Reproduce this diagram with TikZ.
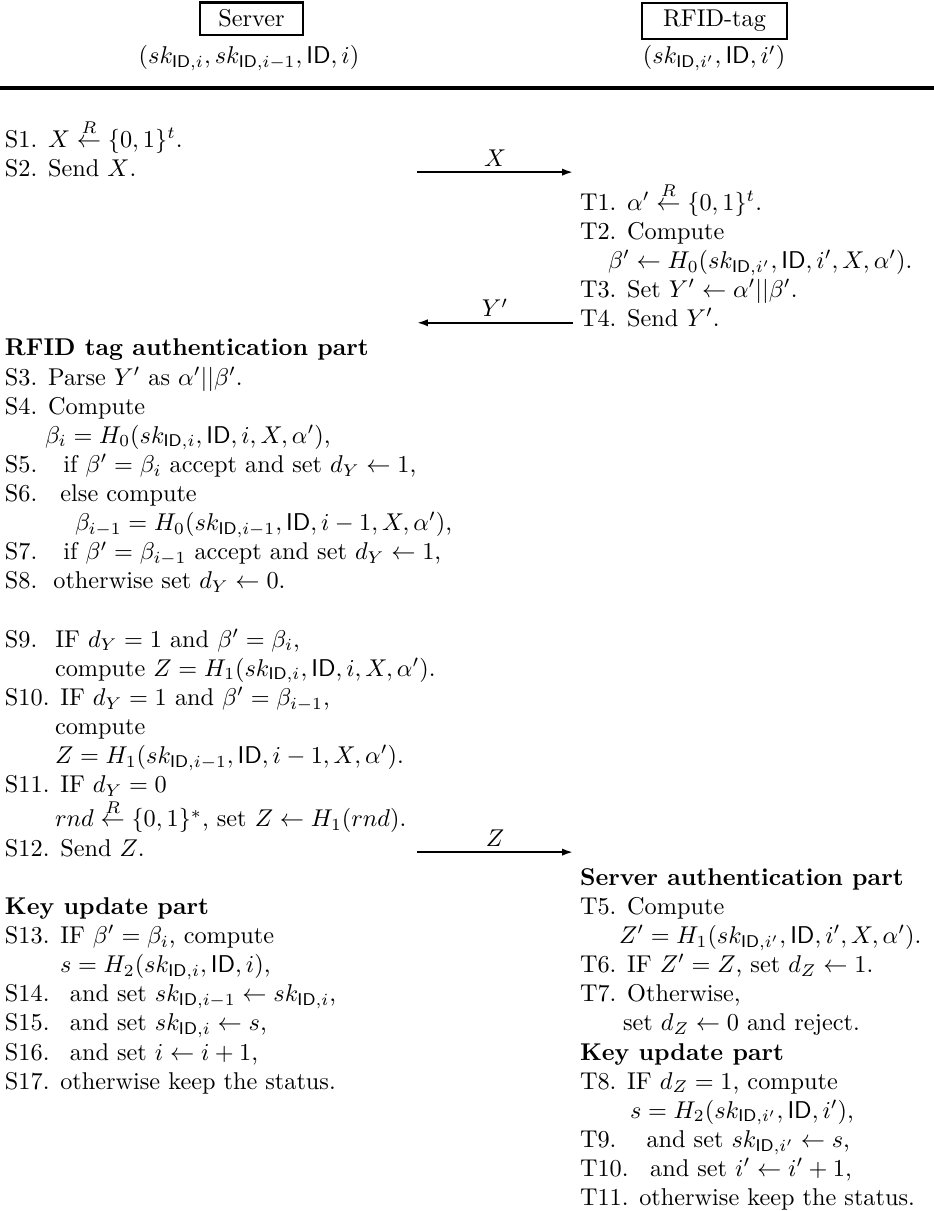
\documentclass[tikz,border=0pt]{standalone}
\usepackage{amsmath}
\usetikzlibrary{arrows.meta}
\newcommand\rowY[1]{(147+(#1-1)*29.13+5*((#1)>2)+5*((#1)>23))}
\newcommand\sk[1]{sk_{\mathsf{ID},#1}}
\begin{document}
\begin{tikzpicture}[x=0.412pt,y=-0.412pt,
  ln/.style={anchor=base west,inner sep=0pt,outer sep=0pt},
  party/.style={draw,line width=1pt,inner sep=3pt,anchor=base},
  msg/.style={line width=0.8pt,-{Latex[length=4.5pt,width=3pt]}},
  lbl/.style={above,inner sep=2pt}]
\useasboundingbox (0,0) rectangle (934,1211);
% header
\node[party,minimum width=42.4pt] (srv) at (251.5,27) {Server};
\node[party,minimum width=59.7pt] (tag) at (714.5,27) {RFID-tag};
\node[anchor=base,inner sep=0pt] (srvk) at (249,64) {$(\sk{i},\sk{i-1},\mathsf{ID},i)$};
\node[anchor=base,inner sep=0pt] (tagk) at (714,64) {$(\sk{i'},\mathsf{ID},i')$};
\draw[line width=1.4pt] (0,88) -- (934,88);
% left column
\node[ln] (s1) at (5,{\rowY{1}}) {S1. $X \stackrel{R}{\leftarrow} \{0,1\}^t$.};
\node[ln] (s2) at (5,{\rowY{2}}) {S2. Send $X$.};
\node[ln] (ra) at (5,{\rowY{8}}) {\textbf{RFID tag authentication part}};
\node[ln] (s3) at (5,{\rowY{9}}) {S3. Parse $Y'$ as $\alpha'||\beta'$.};
\node[ln] (s4) at (5,{\rowY{10}}) {S4. Compute};
\node[ln] (s4b) at (45,{\rowY{11}}) {$\beta_i = H_0(\sk{i},\mathsf{ID},i,X,\alpha')$,};
\node[ln] (s5) at (5,{\rowY{12}}) {S5.\hspace{10.7pt}if $\beta'=\beta_i$ accept and set $d_Y\leftarrow 1$,};
\node[ln] (s6) at (5,{\rowY{13}}) {S6.\hspace{9.5pt}else compute};
\node[ln] (s6b) at (75,{\rowY{14}}) {$\beta_{i-1} = H_0(\sk{i-1},\mathsf{ID},i-1,X,\alpha')$,};
\node[ln] (s7) at (5,{\rowY{15}}) {S7.\hspace{10.7pt}if $\beta'=\beta_{i-1}$ accept and set $d_Y\leftarrow 1$,};
\node[ln] (s8) at (5,{\rowY{16}}) {S8.\hspace{6.6pt}otherwise set $d_Y\leftarrow 0$.};
\node[ln] (s9) at (5,{\rowY{18}}) {S9.\hspace{7.4pt}IF $d_Y=1$ and $\beta'=\beta_i$,};
\node[ln] (s9b) at (55,{\rowY{19}}) {compute $Z=H_1(\sk{i},\mathsf{ID},i,X,\alpha')$.};
\node[ln] (s10) at (5,{\rowY{20}}) {S10. IF $d_Y=1$ and $\beta'=\beta_{i-1}$,};
\node[ln] (s10b) at (55,{\rowY{21}}) {compute};
\node[ln] (s10c) at (55,{\rowY{22}}) {$Z=H_1(\sk{i-1},\mathsf{ID},i-1,X,\alpha')$.};
\node[ln] (s11) at (5,{\rowY{23}}) {S11. IF $d_Y=0$};
\node[ln] (s11b) at (55,{\rowY{24}}) {$rnd \stackrel{R}{\leftarrow} \{0,1\}^*$, set $Z\leftarrow H_1(rnd)$.};
\node[ln] (s12) at (5,{\rowY{25}}) {S12. Send $Z$.};
\node[ln] (ku) at (5,{\rowY{27}}) {\textbf{Key update part}};
\node[ln] (s13) at (5,{\rowY{28}}) {S13. IF $\beta'=\beta_i$, compute};
\node[ln] (s13b) at (60,{\rowY{29}}) {$s=H_2(\sk{i},\mathsf{ID},i)$,};
\node[ln] (s14) at (5,{\rowY{30}}) {S14.\hspace{8.4pt}and set $\sk{i-1}\leftarrow\sk{i}$,};
\node[ln] (s15) at (5,{\rowY{31}}) {S15.\hspace{8.4pt}and set $\sk{i}\leftarrow s$,};
\node[ln] (s16) at (5,{\rowY{32}}) {S16.\hspace{8.4pt}and set $i\leftarrow i+1$,};
\node[ln] (s17) at (5,{\rowY{33}}) {S17. otherwise keep the status.};
% right column
\node[ln] (t1) at (580,{\rowY{3}}) {T1. $\alpha' \stackrel{R}{\leftarrow} \{0,1\}^t$.};
\node[ln] (t2) at (580,{\rowY{4}}) {T2. Compute};
\node[ln] (t2b) at (608,{\rowY{5}}) {$\beta'\leftarrow H_0(\sk{i'},\mathsf{ID},i',X,\alpha')$.};
\node[ln] (t3) at (580,{\rowY{6}}) {T3. Set $Y'\leftarrow\alpha'||\beta'$.};
\node[ln] (t4) at (580,{\rowY{7}}) {T4. Send $Y'$.};
\node[ln] (sa) at (580,{\rowY{26}}) {\textbf{Server authentication part}};
\node[ln] (t5) at (580,{\rowY{27}}) {T5. Compute};
\node[ln] (t5b) at (619,{\rowY{28}}) {$Z'=H_1(\sk{i'},\mathsf{ID},i',X,\alpha')$.};
\node[ln] (t6) at (580,{\rowY{29}}) {T6. IF $Z'=Z$, set $d_Z\leftarrow 1$.};
\node[ln] (t7) at (580,{\rowY{30}}) {T7. Otherwise,};
\node[ln] (t7b) at (623,{\rowY{31}}) {set $d_Z\leftarrow 0$ and reject.};
\node[ln] (ku2) at (580,{\rowY{32}}) {\textbf{Key update part}};
\node[ln] (t8) at (580,{\rowY{33}}) {T8. IF $d_Z=1$, compute};
\node[ln] (t8b) at (630,{\rowY{34}}) {$s=H_2(\sk{i'},\mathsf{ID},i')$,};
\node[ln] (t9) at (580,{\rowY{35}}) {T9.\hspace{12.4pt}and set $\sk{i'}\leftarrow s$,};
\node[ln] (t10) at (580,{\rowY{36}}) {T10.\hspace{8.9pt}and set $i'\leftarrow i'+1$,};
\node[ln] (t11) at (580,{\rowY{37}}) {T11. otherwise keep the status.};
% messages
\coordinate (xa) at (417,{\rowY{2}-4});
\coordinate (xb) at (573,{\rowY{2}-4});
\coordinate (ya) at (573,{\rowY{7}-4});
\coordinate (yb) at (417,{\rowY{7}-4});
\coordinate (za) at (417,{\rowY{25}-4});
\coordinate (zb) at (573,{\rowY{25}-4});
\draw[msg] (xa) -- node[lbl] (xl) {$X$} (xb);
\draw[msg] (ya) -- node[lbl] (yl) {$Y'$} (yb);
\draw[msg] (za) -- node[lbl] (zl) {$Z$} (zb);
\end{tikzpicture}
\end{document}
